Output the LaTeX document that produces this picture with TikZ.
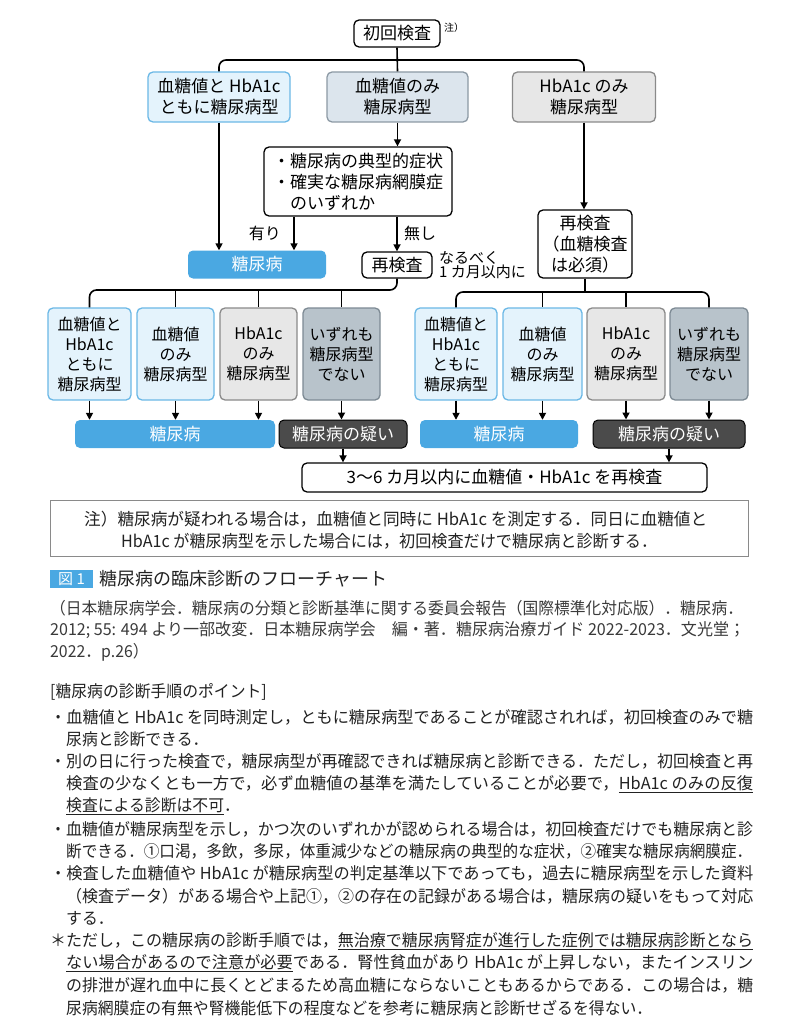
\documentclass[tikz,border=0pt]{standalone}
\usepackage{graphicx}
\usepackage{fontspec}
\setmainfont{Noto Sans CJK JP}
\usetikzlibrary{arrows.meta}
\definecolor{lbfill}{HTML}{E4F3FC}
\definecolor{lbdraw}{HTML}{6BB8E6}
\definecolor{gbfill}{HTML}{DCE5ED}
\definecolor{gbdraw}{HTML}{8C99A4}
\definecolor{gyfill}{HTML}{E7E7E7}
\definecolor{gydraw}{HTML}{8A8A8A}
\definecolor{dgfill}{HTML}{B8C3CB}
\definecolor{dgdraw}{HTML}{7D8A94}
\definecolor{dmblue}{HTML}{4AA8E2}
\definecolor{susp}{HTML}{4B4B4B}
\definecolor{txt}{HTML}{222222}
\definecolor{cite}{HTML}{3A3A3A}
\newcommand\jfs[2]{\fontsize{#1pt}{#2pt}\selectfont}
\newcommand\fitto[2]{\resizebox{#1}{\height}{#2}}
\newcommand\narrow[1]{\scalebox{0.96}[1]{#1}}
\tikzset{
  bx/.style={draw, rounded corners=5pt, line width=1.3pt, inner sep=0pt, align=center, font=\jfs{17}{21}},
  blk/.style={bx, draw=black, fill=white},
  lb/.style={bx, draw=lbdraw, fill=lbfill},
  gb/.style={bx, draw=gbdraw, fill=gbfill},
  gy/.style={bx, draw=gydraw, fill=gyfill},
  dg/.style={bx, draw=dgdraw, fill=dgfill},
  sm/.style={font=\jfs{16}{20}},
  dmbar/.style={rounded corners=5pt, fill=dmblue, inner sep=0pt, text=white, font=\jfs{17}{21}, minimum height=28pt},
  susbar/.style={rounded corners=5pt, draw=black, line width=1pt, fill=susp, inner sep=0pt, text=white, font=\jfs{17}{21}, minimum height=28pt},
  ln/.style={line width=1.6pt},
  arr/.style={line width=1.6pt, -{Triangle[length=7pt,width=7pt]}},
  para/.style={anchor=west, inner sep=0pt, text=txt, font=\jfs{16.5}{20}},
  citet/.style={anchor=west, inner sep=0pt, text=cite, font=\jfs{16.5}{20}},
}
\begin{document}
\begin{tikzpicture}[x=1pt,y=-1pt]
\useasboundingbox[fill=white] (0,0) rectangle (799,1024);

% top
\node[blk, minimum width=86pt, minimum height=27pt] (top) at (397,33.5) {初回検査};
\node[inner sep=0pt, font=\jfs{10}{12}] (topnote) at (454,28) {注）};

% row 1
\node[lb, minimum width=142pt, minimum height=50pt] (A) at (219,97) {血糖値と HbA1c\\ともに糖尿病型};
\node[gb, minimum width=141pt, minimum height=50pt] (B) at (397.5,97) {血糖値のみ\\糖尿病型};
\node[gy, minimum width=143pt, minimum height=50pt] (C) at (584,97) {HbA1c のみ\\糖尿病型};

\coordinate (j0) at (397,60);
\draw[ln] (top.south) -- (B.north);
\draw[ln, rounded corners=7pt] (A.north) |- (j0) -| (C.north);

% condition box
\node[blk, minimum width=188pt, minimum height=69pt, align=left] (cond) at (358,181.5) {・糖尿病の典型的症状\\・確実な糖尿病網膜症\\　のいずれか};
\draw[arr] (B.south) -- (cond.north -| B.south);

\node[dmbar, minimum width=138pt] (DM1) at (257,264.5) {糖尿病};
\node[blk, minimum width=70pt, minimum height=26pt] (RE1) at (397,265) {再検査};
\node[anchor=west, inner sep=0pt, align=left, font=\jfs{15}{14}] (soon) at (439,265) {なるべく\\1 カ月以内に};

\coordinate (c1) at (294,0);
\draw[arr] (A.south) -- (A.south |- DM1.north);
\draw[arr] (cond.south -| c1) -- (c1 |- DM1.north);
\draw[arr] (cond.south -| RE1.north) -- (RE1.north);
\node[anchor=east, inner sep=0pt, font=\jfs{16}{18}] (yes) at (281,233) {有り};
\node[anchor=west, inner sep=0pt, font=\jfs{16}{18}] (no) at (404,233) {無し};

\node[blk, minimum width=94pt, minimum height=68pt] (RE2) at (585,244) {再検査\\（血糖検査\\は必須）};
\draw[arr] (C.south) -- (C.south |- RE2.north);

% row 2
\node[lb, sm, minimum width=83pt, minimum height=92pt] (L1) at (89.5,354) {血糖値と\\HbA1c\\ともに\\糖尿病型};
\node[lb, sm, minimum width=77pt, minimum height=92pt] (L2) at (175.5,354) {血糖値\\のみ\\糖尿病型};
\node[gy, sm, minimum width=77pt, minimum height=92pt] (L3) at (258.5,354) {HbA1c\\のみ\\糖尿病型};
\node[dg, sm, minimum width=77pt, minimum height=92pt] (L4) at (341.5,354) {いずれも\\糖尿病型\\でない};

\node[lb, sm, minimum width=82pt, minimum height=92pt] (R1) at (456,354) {血糖値と\\HbA1c\\ともに\\糖尿病型};
\node[lb, sm, minimum width=79pt, minimum height=92pt] (R2) at (542.5,354) {血糖値\\のみ\\糖尿病型};
\node[gy, sm, minimum width=78pt, minimum height=92pt] (R3) at (626,354) {HbA1c\\のみ\\糖尿病型};
\node[dg, sm, minimum width=78pt, minimum height=92pt] (R4) at (709,354) {いずれも\\糖尿病型\\でない};

\coordinate (j1) at (397,290);
\coordinate (j2) at (585,292);
\draw[ln, rounded corners=7pt] (RE1.south) |- (L1.north |- j1) -- (L1.north);
\draw[ln] (L2.north |- j1) -- (L2.north);
\draw[ln] (L3.north |- j1) -- (L3.north);
\draw[ln] (L4.north |- j1) -- (L4.north);
\draw[ln, rounded corners=7pt] (R1.north) |- (R4.north |- j2) -- (R4.north);
\draw[ln] (RE2.south) -- (RE2.south |- j2);
\draw[ln] (R2.north |- j2) -- (R2.north);
\draw[ln] (R3.north |- j2) -- (R3.north);

% result bars
\node[dmbar, minimum width=200pt] (LB) at (175,434) {糖尿病};
\node[susbar, minimum width=128pt] (LS) at (343,434) {糖尿病の疑い};
\node[dmbar, minimum width=158pt] (RB) at (499,434) {糖尿病};
\node[susbar, minimum width=152pt] (RS) at (669,434) {糖尿病の疑い};

\draw[arr] (L1.south) -- (L1.south |- LB.north);
\draw[arr] (L2.south) -- (L2.south |- LB.north);
\draw[arr] (L3.south) -- (L3.south |- LB.north);
\draw[arr] (L4.south) -- (L4.south |- LS.north);
\draw[arr] (R1.south) -- (R1.south |- RB.north);
\draw[arr] (R2.south) -- (R2.south |- RB.north);
\draw[arr] (R3.south) -- (R3.south |- RS.north);
\draw[arr] (R4.south) -- (R4.south |- RS.north);

\node[blk, minimum width=405pt, minimum height=29pt] (F) at (504.5,477.5) {3〜6 カ月以内に血糖値・HbA1c を再検査};
\draw[arr] (LS.south) -- (LS.south |- F.north);
\draw[arr] (RS.south) -- (RS.south |- F.north);

% note box
\node[draw=gydraw, line width=1pt, minimum width=698pt, minimum height=56pt, inner sep=0pt] (notebox) at (399,528) {};
\node[para, font=\jfs{16.8}{20}] (n1) at (84,519) {\fitto{623pt}{注）糖尿病が疑われる場合は，血糖値と同時に HbA1c を測定する．同日に血糖値と}};
\node[para, font=\jfs{16.8}{20}] (n2) at (121,541) {\fitto{536pt}{HbA1c が糖尿病型を示した場合には，初回検査だけで糖尿病と診断する．}};

% caption
\node[fill=dmblue, text=white, inner sep=0pt, minimum width=43pt, minimum height=18pt, font=\jfs{15}{16}] (fig) at (71.5,579) {図 1};
\node[anchor=west, inner sep=0pt, text=txt, font=\jfs{18}{20}] (title) at (99,579) {糖尿病の臨床診断のフローチャート};
\node[citet] (c1t) at (50,608) {\fitto{693pt}{（日本糖尿病学会．糖尿病の分類と診断基準に関する委員会報告（国際標準化対応版）．糖尿病．}};
\node[citet] (c2t) at (50,630) {\fitto{695pt}{2012; 55: 494 より一部改変．日本糖尿病学会　編・著．糖尿病治療ガイド 2022-2023．文光堂；}};
\node[citet] (c3t) at (50,652) {\narrow{2022．p.26）}};

% points
\node[para] (p0) at (50,692) {\narrow{[糖尿病の診断手順のポイント]}};
\node[para] (p1) at (50,717) {\fitto{703pt}{・血糖値と HbA1c を同時測定し，ともに糖尿病型であることが確認されれば，初回検査のみで糖}};
\node[para] (p2) at (66,739.4) {\narrow{尿病と診断できる．}};
\node[para] (p3) at (50,761.8) {\fitto{703pt}{・別の日に行った検査で，糖尿病型が再確認できれば糖尿病と診断できる．ただし，初回検査と再}};
\node[para] (p4) at (66,784.2) {\fitto{687pt}{検査の少なくとも一方で，必ず血糖値の基準を満たしていることが必要で，\underline{HbA1c のみの反復}}};
\node[para] (p5) at (66,806.6) {\narrow{\underline{検査による診断は不可}．}};
\node[para] (p6) at (50,829) {\fitto{703pt}{・血糖値が糖尿病型を示し，かつ次のいずれかが認められる場合は，初回検査だけでも糖尿病と診}};
\node[para] (p7) at (66,851.4) {\fitto{686pt}{断できる．①口渇，多飲，多尿，体重減少などの糖尿病の典型的な症状，②確実な糖尿病網膜症．}};
\node[para] (p8) at (50,873.8) {\fitto{703pt}{・検査した血糖値や HbA1c が糖尿病型の判定基準以下であっても，過去に糖尿病型を示した資料}};
\node[para] (p9) at (66,896.2) {\fitto{687pt}{（検査データ）がある場合や上記①，②の存在の記録がある場合は，糖尿病の疑いをもって対応}};
\node[para] (p10) at (66,918.6) {\narrow{する．}};
\node[para] (p11) at (50,941) {\fitto{703pt}{＊ただし，この糖尿病の診断手順では，\underline{無治療で糖尿病腎症が進行した症例では糖尿病診断となら}}};
\node[para] (p12) at (66,963.4) {\fitto{687pt}{\underline{ない場合があるので注意が必要}である．腎性貧血があり HbA1c が上昇しない，またインスリン}};
\node[para] (p13) at (66,985.8) {\fitto{687pt}{の排泄が遅れ血中に長くとどまるため高血糖にならないこともあるからである．この場合は，糖}};
\node[para] (p14) at (66,1008.2) {\narrow{尿病網膜症の有無や腎機能低下の程度などを参考に糖尿病と診断せざるを得ない．}};
\end{tikzpicture}
\end{document}
